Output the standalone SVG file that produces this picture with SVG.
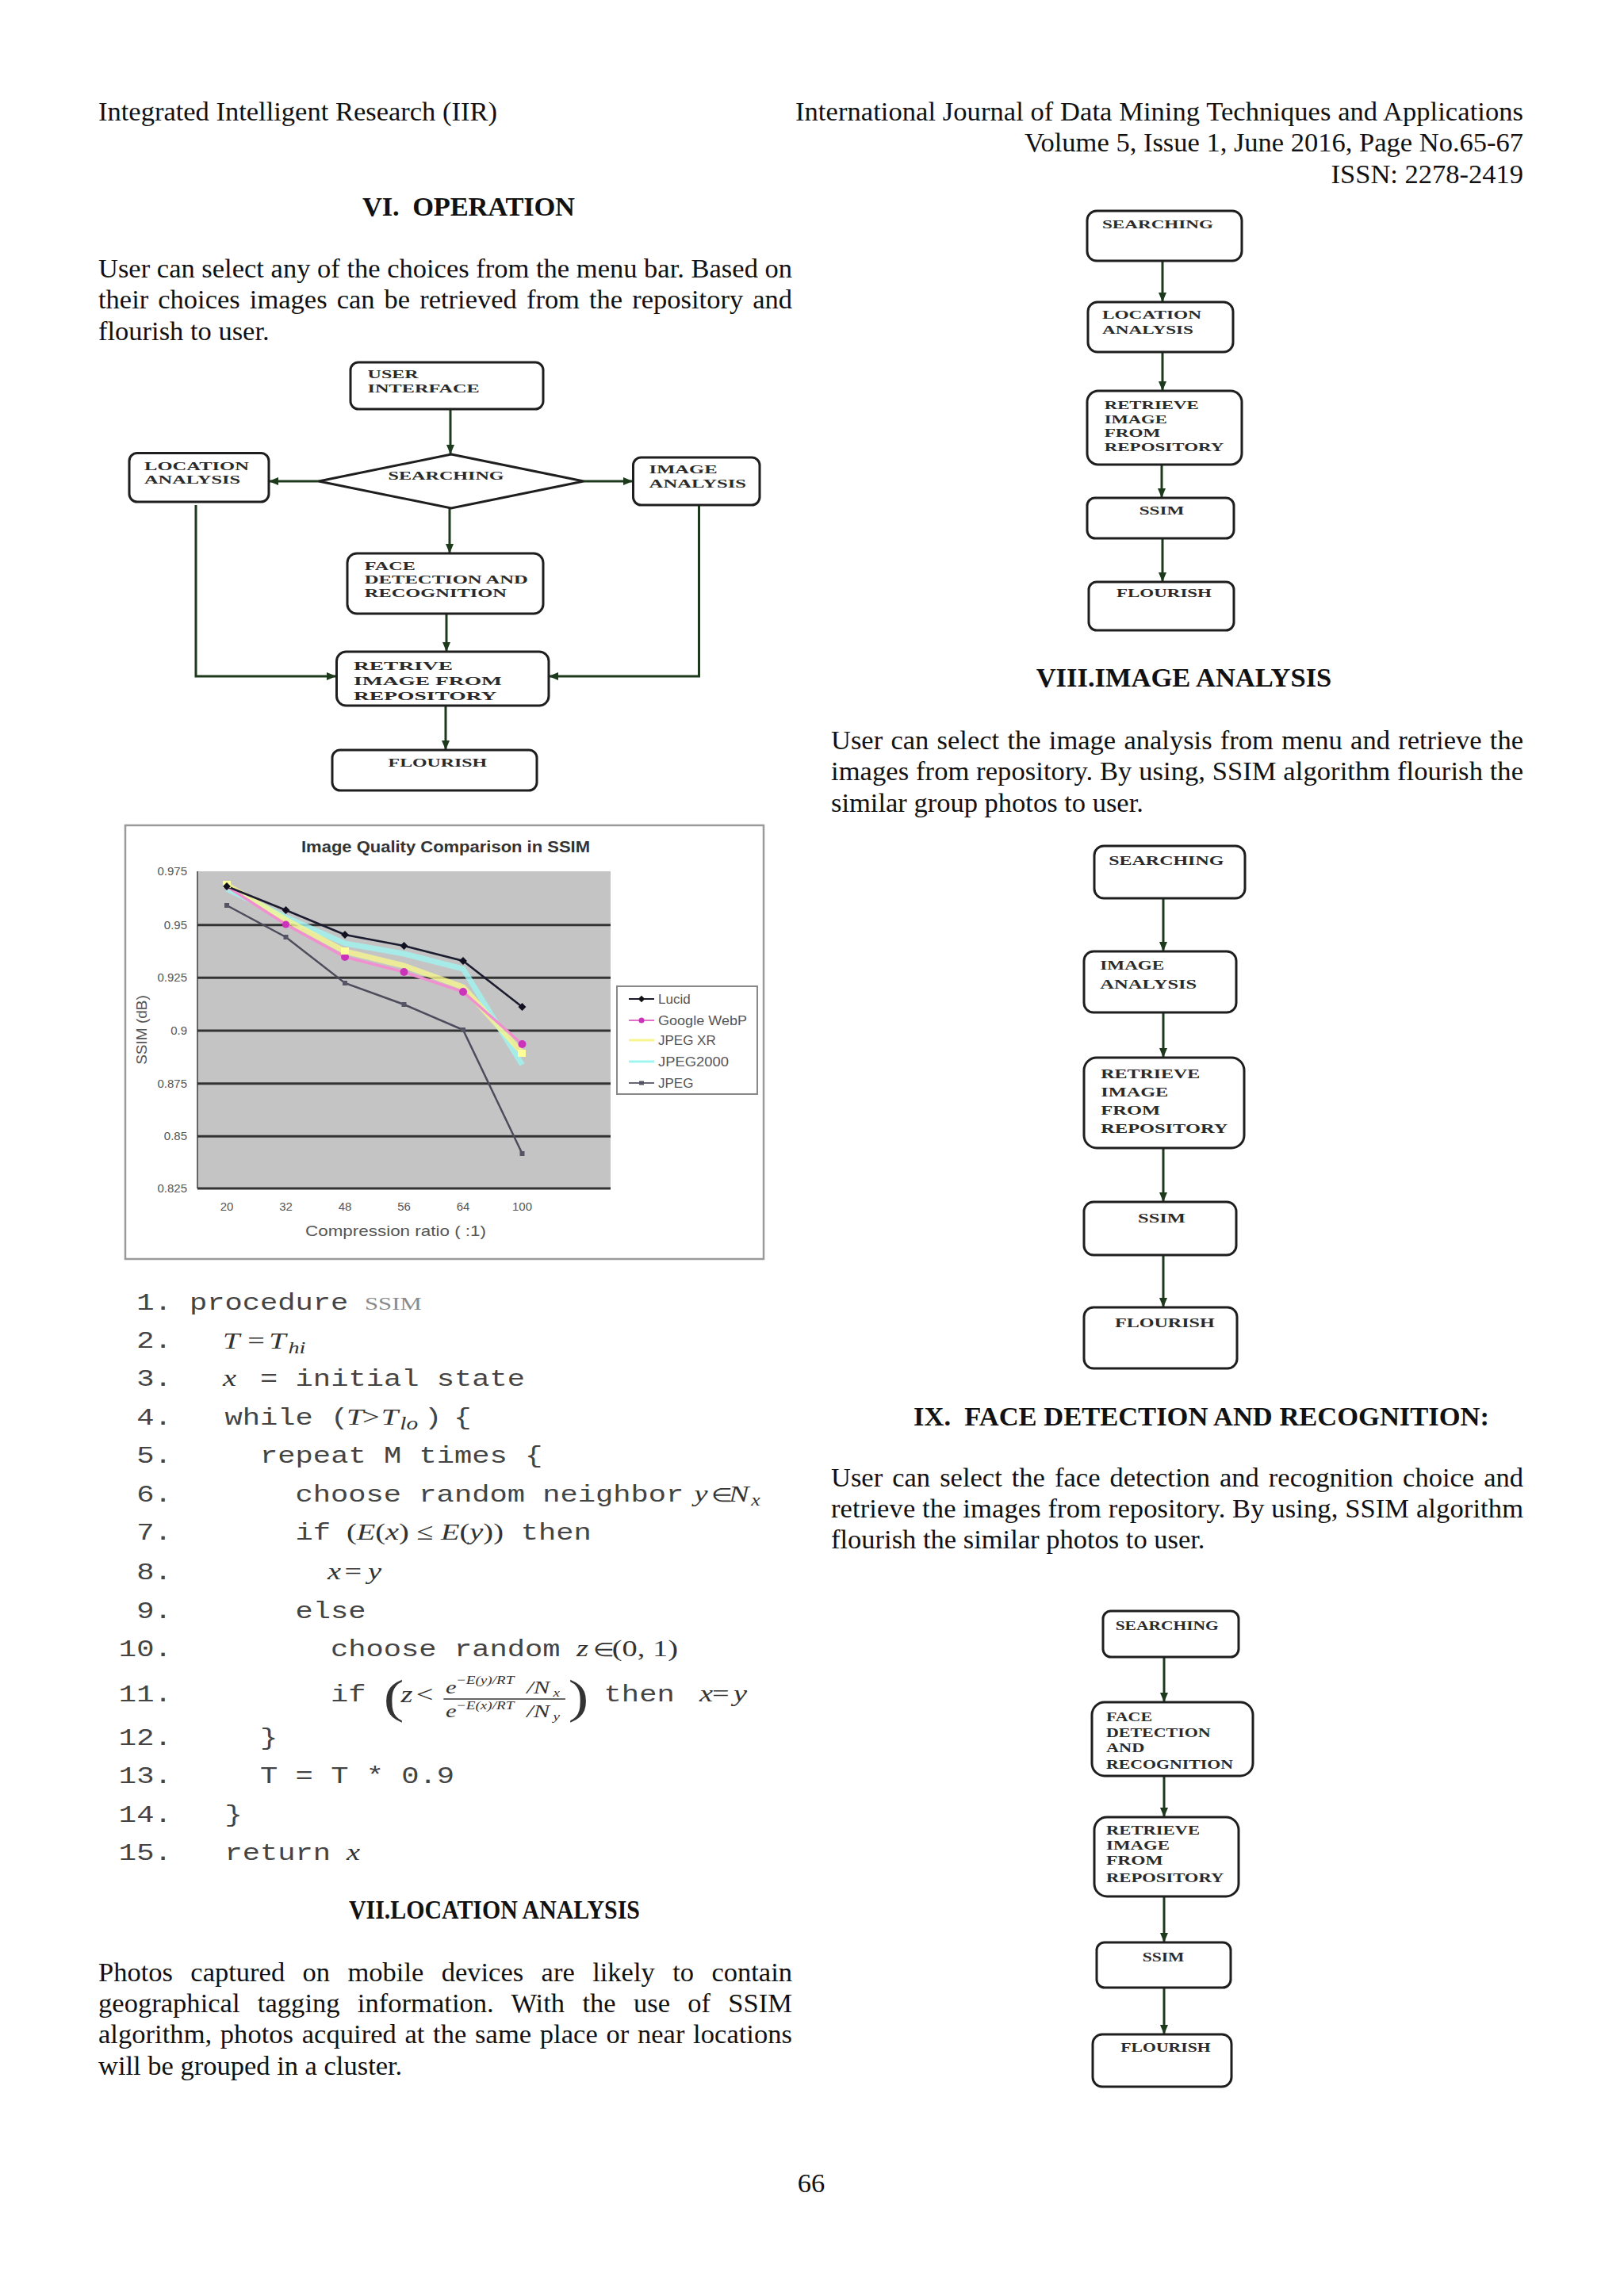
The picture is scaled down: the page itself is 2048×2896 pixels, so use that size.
<svg xmlns="http://www.w3.org/2000/svg" width="2048" height="2896" viewBox="0 0 2048 2896">
<defs>
<style>
.body{font-family:"Liberation Serif","Times New Roman",serif;font-size:34.5px;fill:#111}
.hd{font-weight:bold}
.fl{font-family:"Liberation Serif","Times New Roman",serif;font-weight:bold;font-size:15px;fill:#2a2a2a}
.fl17{font-size:17px}
.fl16{font-size:16px}
.box{fill:#fff;stroke:#1e1e1e;stroke-width:3}
.conn{fill:none;stroke:#1d3a1d;stroke-width:3}
.mono{font-family:"Liberation Mono","Courier New",monospace;font-size:29px;fill:#444}
.math{font-family:"Liberation Serif","Times New Roman",serif;font-size:30px;fill:#333}
.it{font-style:italic}
.ax{font-family:"Liberation Sans",Arial,sans-serif;font-size:15px;fill:#555}
.grid{stroke:#333;stroke-width:3}
</style>
<marker id="arr" markerWidth="12" markerHeight="10" refX="12" refY="5" orient="auto" markerUnits="userSpaceOnUse">
<path d="M0,0 L12,5 L0,10 z" fill="#1d3a1d"/>
</marker>
</defs>
<rect width="2048" height="2896" fill="#fff"/>

<!-- Header -->
<text class="body" x="124" y="152">Integrated Intelligent Research (IIR)</text>
<text class="body" x="1003" y="152" textLength="918">International Journal of Data Mining Techniques and Applications</text>
<text class="body" x="1921" y="191" text-anchor="end">Volume 5, Issue 1, June 2016, Page No.65-67</text>
<text class="body" x="1921" y="230.5" text-anchor="end">ISSN: 2278-2419</text>

<!-- Section VI -->
<text class="body hd" x="457" y="272" textLength="268" xml:space="preserve">VI.  OPERATION</text>
<text class="body" x="124" y="350" textLength="875">User can select any of the choices from the menu bar. Based on</text>
<text class="body" x="124" y="389" word-spacing="3.4" textLength="875">their choices images can be retrieved from the repository and</text>
<text class="body" x="124" y="429">flourish to user.</text>

<!-- Main flowchart -->
<g id="main-connectors">
<line class="conn" x1="568" y1="516" x2="568" y2="573" marker-end="url(#arr)"/>
<line class="conn" x1="402" y1="607" x2="339" y2="607" marker-end="url(#arr)"/>
<line class="conn" x1="736" y1="607" x2="798" y2="607" marker-end="url(#arr)"/>
<line class="conn" x1="567" y1="641" x2="567" y2="698" marker-end="url(#arr)"/>
<line class="conn" x1="563" y1="774" x2="563" y2="822" marker-end="url(#arr)"/>
<polyline class="conn" points="247,637 247,853 424,853" marker-end="url(#arr)"/>
<polyline class="conn" points="881.5,638 881.5,853 692,853" marker-end="url(#arr)"/>
<line class="conn" x1="562" y1="890" x2="562" y2="946" marker-end="url(#arr)"/>
</g>
<g id="m-user">
<rect class="box" x="442" y="457" width="243" height="59" rx="10"/>
<text class="fl" x="463.6" y="477" textLength="64" lengthAdjust="spacingAndGlyphs">USER</text>
<text class="fl" x="463.6" y="495" textLength="141" lengthAdjust="spacingAndGlyphs">INTERFACE</text>
</g>
<g id="m-search">
<polygon class="box" points="569,573 736,607 569,641 402,607"/>
<text class="fl" x="489.6" y="605" textLength="146" lengthAdjust="spacingAndGlyphs">SEARCHING</text>
</g>
<g id="m-location">
<rect class="box" x="163" y="571.5" width="176" height="61.5" rx="10"/>
<text class="fl" x="182" y="592.5" textLength="132" lengthAdjust="spacingAndGlyphs">LOCATION</text>
<text class="fl" x="182" y="610" textLength="121" lengthAdjust="spacingAndGlyphs">ANALYSIS</text>
</g>
<g id="m-image">
<rect class="box" x="798.5" y="577" width="159.5" height="60" rx="10"/>
<text class="fl" x="818.6" y="596.5" textLength="86" lengthAdjust="spacingAndGlyphs">IMAGE</text>
<text class="fl" x="818.6" y="614.5" textLength="122.5" lengthAdjust="spacingAndGlyphs">ANALYSIS</text>
</g>
<g id="m-face">
<rect class="box" x="438" y="698" width="247" height="76" rx="12"/>
<text class="fl" x="459.8" y="719" textLength="64" lengthAdjust="spacingAndGlyphs">FACE</text>
<text class="fl" x="459.8" y="736" textLength="206" lengthAdjust="spacingAndGlyphs">DETECTION AND</text>
<text class="fl" x="459.8" y="753" textLength="179" lengthAdjust="spacingAndGlyphs">RECOGNITION</text>
</g>
<g id="m-retrive">
<rect class="box" x="424.5" y="822" width="267.5" height="68" rx="12"/>
<text class="fl" x="446" y="845" textLength="125" lengthAdjust="spacingAndGlyphs">RETRIVE</text>
<text class="fl" x="446" y="863.5" textLength="187" lengthAdjust="spacingAndGlyphs">IMAGE FROM</text>
<text class="fl" x="446" y="883" textLength="180.5" lengthAdjust="spacingAndGlyphs">REPOSITORY</text>
</g>
<g id="m-flourish">
<rect class="box" x="419" y="946" width="258" height="51" rx="10"/>
<text class="fl" x="489.6" y="967" textLength="124.6" lengthAdjust="spacingAndGlyphs">FLOURISH</text>
</g>

<!-- Chart -->
<g id="chart">
<rect x="158" y="1041" width="805" height="547" fill="#fff" stroke="#9a9a9a" stroke-width="2.5"/>
<text x="562" y="1075" text-anchor="middle" font-family="Liberation Sans, Arial, sans-serif" font-weight="bold" font-size="20" fill="#333" textLength="364" lengthAdjust="spacingAndGlyphs">Image Quality Comparison in SSIM</text>
<rect x="249" y="1099" width="521" height="400" fill="#c4c4c4"/>
<line x1="249" y1="1099" x2="249" y2="1499" stroke="#666" stroke-width="2"/>
<line class="grid" x1="249" y1="1166.7" x2="770" y2="1166.7"/>
<line class="grid" x1="249" y1="1233.3" x2="770" y2="1233.3"/>
<line class="grid" x1="249" y1="1300" x2="770" y2="1300"/>
<line class="grid" x1="249" y1="1366.7" x2="770" y2="1366.7"/>
<line class="grid" x1="249" y1="1433.3" x2="770" y2="1433.3"/>
<line class="grid" x1="249" y1="1499" x2="770" y2="1499"/>
<g class="ax" text-anchor="end">
<text x="236" y="1104">0.975</text>
<text x="236" y="1172">0.95</text>
<text x="236" y="1238">0.925</text>
<text x="236" y="1305">0.9</text>
<text x="236" y="1372">0.875</text>
<text x="236" y="1438">0.85</text>
<text x="236" y="1504">0.825</text>
</g>
<g class="ax" text-anchor="middle">
<text x="286" y="1527">20</text>
<text x="360.5" y="1527">32</text>
<text x="435" y="1527">48</text>
<text x="509.5" y="1527">56</text>
<text x="584" y="1527">64</text>
<text x="658.5" y="1527">100</text>
</g>
<text class="ax" x="385" y="1559" style="font-size:19px" textLength="228" lengthAdjust="spacingAndGlyphs">Compression ratio ( :1)</text>
<text class="ax" style="font-size:19px" transform="translate(185,1299) rotate(-90)" text-anchor="middle">SSIM (dB)</text>
<polyline fill="none" stroke="#9ff5f0" stroke-width="7" stroke-opacity="0.8" points="286,1121 360.5,1157 435,1190 509.5,1203 584,1222 658.5,1343"/>
<polyline fill="none" stroke="#f6f590" stroke-width="7" stroke-opacity="0.8" points="286,1116 360.5,1160 435,1200 509.5,1218 584,1245 658.5,1328"/>
<polyline fill="none" stroke="#f090d0" stroke-width="3.5" points="286,1118 360.5,1166 435,1207 509.5,1226 584,1251 658.5,1317"/>
<polyline fill="none" stroke="#4c4c5c" stroke-width="2.5" points="286,1142 360.5,1182 435,1240 509.5,1267 584,1299 658.5,1455"/>
<polyline fill="none" stroke="#1c1c30" stroke-width="2.5" points="286,1118 360.5,1148 435,1179 509.5,1193 584,1212 658.5,1270"/>
<g fill="#cc33bb">
<circle cx="360.5" cy="1166" r="4.5"/><circle cx="435" cy="1207" r="5"/><circle cx="509.5" cy="1226" r="5"/><circle cx="584" cy="1251" r="5"/><circle cx="658.5" cy="1317" r="5"/>
</g>
<g fill="#ffff99"><rect x="653" y="1324" width="10" height="9"/><rect x="430" y="1195" width="10" height="9"/><rect x="281" y="1111" width="10" height="9"/></g>
<g fill="#555566">
<rect x="283" y="1139" width="6" height="6"/><rect x="357.5" y="1179" width="6" height="6"/><rect x="432" y="1237" width="6" height="6"/><rect x="506.5" y="1264" width="6" height="6"/><rect x="581" y="1296" width="6" height="6"/><rect x="655.5" y="1452" width="6" height="6"/>
</g>
<g fill="#111122">
<rect x="282.5" y="1114.5" width="7" height="7" transform="rotate(45 286 1118)"/>
<rect x="357" y="1144.5" width="7" height="7" transform="rotate(45 360.5 1148)"/>
<rect x="431.5" y="1175.5" width="7" height="7" transform="rotate(45 435 1179)"/>
<rect x="506" y="1189.5" width="7" height="7" transform="rotate(45 509.5 1193)"/>
<rect x="580.5" y="1208.5" width="7" height="7" transform="rotate(45 584 1212)"/>
<rect x="655" y="1266.5" width="7" height="7" transform="rotate(45 658.5 1270)"/>
</g>
<rect x="778" y="1244" width="177" height="136" fill="#fff" stroke="#888" stroke-width="2"/>
<line x1="793" y1="1260" x2="825" y2="1260" stroke="#1c1c30" stroke-width="2"/>
<rect x="806" y="1257" width="6" height="6" fill="#111" transform="rotate(45 809 1260)"/>
<line x1="793" y1="1287" x2="825" y2="1287" stroke="#e070c8" stroke-width="2"/>
<circle cx="809" cy="1287" r="3.5" fill="#cc33bb"/>
<line x1="793" y1="1312" x2="825" y2="1312" stroke="#f6f590" stroke-width="3"/>
<line x1="793" y1="1339" x2="825" y2="1339" stroke="#9ff5f0" stroke-width="3"/>
<line x1="793" y1="1366" x2="825" y2="1366" stroke="#666677" stroke-width="2"/>
<rect x="806" y="1363.5" width="6" height="5" fill="#555566"/>
<g class="ax" style="font-size:17px">
<text x="830" y="1266">Lucid</text>
<text x="830" y="1293" textLength="112" lengthAdjust="spacingAndGlyphs">Google WebP</text>
<text x="830" y="1318">JPEG XR</text>
<text x="830" y="1345" textLength="89" lengthAdjust="spacingAndGlyphs">JPEG2000</text>
<text x="830" y="1372">JPEG</text>
</g>
</g>

<!-- Pseudo code -->
<g id="code" transform="scale(1.28,1)">
<g class="mono" text-anchor="end">
<text x="169.3" y="1652">1.</text>
<text x="169.3" y="1700">2.</text>
<text x="169.3" y="1748.5">3.</text>
<text x="169.3" y="1797">4.</text>
<text x="169.3" y="1845.5">5.</text>
<text x="169.3" y="1894">6.</text>
<text x="169.3" y="1942">7.</text>
<text x="169.3" y="1992">8.</text>
<text x="169.3" y="2041">9.</text>
<text x="169.3" y="2089">10.</text>
<text x="169.3" y="2146">11.</text>
<text x="169.3" y="2201">12.</text>
<text x="169.3" y="2249">13.</text>
<text x="169.3" y="2298">14.</text>
<text x="169.3" y="2346">15.</text>
</g>
<text class="mono" x="186.7" y="1652">procedure</text>
<text x="359.4" y="1652" font-family="Liberation Serif, serif" font-size="24" fill="#8a8a8a">SSIM</text>
<text class="math" y="1701"><tspan class="it" x="219.5">T</tspan><tspan x="244">=</tspan><tspan class="it" x="265">T</tspan><tspan class="it" x="284" font-size="22" dy="6">hi</tspan></text>
<text class="math it" x="219.5" y="1748.5">x</text>
<text class="mono" x="256.3" y="1748.5">= initial state</text>
<text class="mono" x="221.5" y="1797">while</text>
<text class="mono" x="325.8" y="1797">(</text>
<text class="math" y="1797"><tspan class="it" x="341.4">T</tspan><tspan x="357">&gt;</tspan><tspan class="it" x="375.5">T</tspan><tspan class="it" x="394" font-size="23" dy="6">lo</tspan></text>
<text class="mono" x="418" y="1797">)</text>
<text class="mono" x="447" y="1797">{</text>
<text class="mono" x="256.3" y="1845.5">repeat M times {</text>
<text class="mono" x="291" y="1894">choose random neighbor</text>
<text class="math" y="1894"><tspan class="it" x="684">y</tspan><tspan x="701" font-size="24">∈</tspan><tspan class="it" x="718">N</tspan><tspan class="it" x="740" font-size="20" dy="5">x</tspan></text>
<text class="mono" x="291" y="1942">if</text>
<text class="math" x="341.4" y="1942">(<tspan class="it">E</tspan>(<tspan class="it">x</tspan>) ≤ <tspan class="it">E</tspan>(<tspan class="it">y</tspan>))</text>
<text class="mono" x="513" y="1942">then</text>
<text class="math it" y="1992"><tspan x="322.7">x</tspan><tspan x="339.5" font-style="normal">=</tspan><tspan x="362.5">y</tspan></text>
<text class="mono" x="291" y="2041">else</text>
<text class="mono" x="325.8" y="2089">choose random</text>
<text class="math" y="2089"><tspan class="it" x="568">z</tspan><tspan x="584" font-size="24">∈</tspan><tspan x="603">(0, 1)</tspan></text>
<text class="mono" x="325.8" y="2146">if</text>
<text class="math" x="378" y="2160" style="font-size:60px">(</text>
<text class="math it" x="395" y="2147">z</text>
<text class="math" x="410" y="2147">&lt;</text>
<text class="math it" x="439" y="2136" style="font-size:24px">e</text>
<text class="math it" x="449" y="2124" style="font-size:15px">−E(y)/RT</text>
<text class="math it" x="519" y="2136" style="font-size:24px">/N</text>
<text class="math it" x="545" y="2140" style="font-size:15px">x</text>
<line x1="437" y1="2143" x2="557" y2="2143" stroke="#333" stroke-width="1.5"/>
<text class="math it" x="439" y="2166" style="font-size:24px">e</text>
<text class="math it" x="449" y="2156" style="font-size:15px">−E(x)/RT</text>
<text class="math it" x="519" y="2166" style="font-size:24px">/N</text>
<text class="math it" x="545" y="2170" style="font-size:15px">y</text>
<text class="math" x="560" y="2160" style="font-size:60px">)</text>
<text class="mono" x="595" y="2146">then</text>
<text class="math it" y="2146"><tspan x="689">x</tspan><tspan x="701.6" font-style="normal">=</tspan><tspan x="722.7">y</tspan></text>
<text class="mono" x="256.3" y="2201">}</text>
<text class="mono" x="256.3" y="2249">T = T * 0.9</text>
<text class="mono" x="221.5" y="2298">}</text>
<text class="mono" x="221.5" y="2346">return</text>
<text class="math it" x="341.4" y="2346">x</text>
</g>

<!-- Section VII -->
<text class="body hd" x="440" y="2420" textLength="367" lengthAdjust="spacingAndGlyphs">VII.LOCATION ANALYSIS</text>
<text class="body" x="124" y="2499" word-spacing="13.8" textLength="875">Photos captured on mobile devices are likely to contain</text>
<text class="body" x="124" y="2538" word-spacing="13.6" textLength="875">geographical tagging information. With the use of SSIM</text>
<text class="body" x="124" y="2577" word-spacing="2" textLength="875">algorithm, photos acquired at the same place or near locations</text>
<text class="body" x="124" y="2617">will be grouped in a cluster.</text>

<!-- Right flowchart 1: location -->
<g id="r1-connectors">
<line class="conn" x1="1466" y1="329" x2="1466" y2="381" marker-end="url(#arr)"/>
<line class="conn" x1="1466" y1="444" x2="1466" y2="493" marker-end="url(#arr)"/>
<line class="conn" x1="1465" y1="586" x2="1465" y2="628" marker-end="url(#arr)"/>
<line class="conn" x1="1466" y1="679" x2="1466" y2="734" marker-end="url(#arr)"/>
</g>
<g id="r1-search"><rect class="box" x="1371" y="266" width="195" height="63" rx="12"/>
<text class="fl" x="1390" y="288" textLength="140" lengthAdjust="spacingAndGlyphs">SEARCHING</text></g>
<g id="r1-location"><rect class="box" x="1372" y="381" width="183" height="63" rx="12"/>
<text class="fl" x="1390" y="401.5" textLength="125" lengthAdjust="spacingAndGlyphs">LOCATION</text>
<text class="fl" x="1390" y="421" textLength="115" lengthAdjust="spacingAndGlyphs">ANALYSIS</text></g>
<g id="r1-retrieve"><rect class="box" x="1371" y="493" width="195" height="93" rx="14"/>
<text class="fl" x="1392.7" y="516" textLength="119" lengthAdjust="spacingAndGlyphs">RETRIEVE</text>
<text class="fl" x="1392.7" y="534" textLength="79" lengthAdjust="spacingAndGlyphs">IMAGE</text>
<text class="fl" x="1392.7" y="551" textLength="70.7" lengthAdjust="spacingAndGlyphs">FROM</text>
<text class="fl" x="1392.7" y="569" textLength="150.7" lengthAdjust="spacingAndGlyphs">REPOSITORY</text></g>
<g id="r1-ssim"><rect class="box" x="1371" y="628" width="185" height="51" rx="10"/>
<text class="fl" x="1436.7" y="649" textLength="56.7" lengthAdjust="spacingAndGlyphs">SSIM</text></g>
<g id="r1-flourish"><rect class="box" x="1373" y="734" width="183" height="61" rx="10"/>
<text class="fl" x="1408" y="753" textLength="120" lengthAdjust="spacingAndGlyphs">FLOURISH</text></g>

<!-- Section VIII -->
<text class="body hd" x="1493" y="866" text-anchor="middle">VIII.IMAGE ANALYSIS</text>
<text class="body" x="1048" y="944.5" word-spacing="1.6" textLength="873">User can select the image analysis from menu and retrieve the</text>
<text class="body" x="1048" y="984" textLength="873">images from repository. By using, SSIM algorithm flourish the</text>
<text class="body" x="1048" y="1024">similar group photos to user.</text>

<!-- Right flowchart 2: image -->
<g id="r2-connectors">
<line class="conn" x1="1467" y1="1133" x2="1467" y2="1200" marker-end="url(#arr)"/>
<line class="conn" x1="1467" y1="1277" x2="1467" y2="1334" marker-end="url(#arr)"/>
<line class="conn" x1="1467" y1="1448" x2="1467" y2="1516" marker-end="url(#arr)"/>
<line class="conn" x1="1467" y1="1583" x2="1467" y2="1649" marker-end="url(#arr)"/>
</g>
<g id="r2-search"><rect class="box" x="1380" y="1067" width="190" height="66" rx="12"/>
<text class="fl fl17" x="1398.3" y="1091" textLength="145" lengthAdjust="spacingAndGlyphs">SEARCHING</text></g>
<g id="r2-image"><rect class="box" x="1367" y="1200" width="192" height="77" rx="12"/>
<text class="fl fl17" x="1387.3" y="1223" textLength="81" lengthAdjust="spacingAndGlyphs">IMAGE</text>
<text class="fl fl17" x="1387.3" y="1247" textLength="122" lengthAdjust="spacingAndGlyphs">ANALYSIS</text></g>
<g id="r2-retrieve"><rect class="box" x="1367" y="1334" width="202" height="114" rx="16"/>
<text class="fl fl17" x="1388.3" y="1359.5" textLength="125" lengthAdjust="spacingAndGlyphs">RETRIEVE</text>
<text class="fl fl17" x="1388.3" y="1382.5" textLength="85" lengthAdjust="spacingAndGlyphs">IMAGE</text>
<text class="fl fl17" x="1388.3" y="1406" textLength="75" lengthAdjust="spacingAndGlyphs">FROM</text>
<text class="fl fl17" x="1388.3" y="1429" textLength="160" lengthAdjust="spacingAndGlyphs">REPOSITORY</text></g>
<g id="r2-ssim"><rect class="box" x="1367" y="1516" width="192" height="67" rx="12"/>
<text class="fl fl17" x="1435" y="1542" textLength="60" lengthAdjust="spacingAndGlyphs">SSIM</text></g>
<g id="r2-flourish"><rect class="box" x="1367" y="1649" width="193" height="77" rx="12"/>
<text class="fl fl17" x="1406" y="1674" textLength="125.7" lengthAdjust="spacingAndGlyphs">FLOURISH</text></g>

<!-- Section IX -->
<text class="body hd" x="1515" y="1798" text-anchor="middle" xml:space="preserve">IX.  FACE DETECTION AND RECOGNITION:</text>
<text class="body" x="1048" y="1875" word-spacing="3.4" textLength="873">User can select the face detection and recognition choice and</text>
<text class="body" x="1048" y="1914" textLength="873">retrieve the images from repository. By using, SSIM algorithm</text>
<text class="body" x="1048" y="1953">flourish the similar photos to user.</text>

<!-- Right flowchart 3: face -->
<g id="r3-connectors">
<line class="conn" x1="1468" y1="2090" x2="1468" y2="2147" marker-end="url(#arr)"/>
<line class="conn" x1="1468" y1="2240" x2="1468" y2="2292" marker-end="url(#arr)"/>
<line class="conn" x1="1468" y1="2392" x2="1468" y2="2450" marker-end="url(#arr)"/>
<line class="conn" x1="1468" y1="2507" x2="1468" y2="2566" marker-end="url(#arr)"/>
</g>
<g id="r3-search"><rect class="box" x="1391" y="2032" width="171" height="58" rx="10"/>
<text class="fl fl16" x="1406.7" y="2056" textLength="130" lengthAdjust="spacingAndGlyphs">SEARCHING</text></g>
<g id="r3-face"><rect class="box" x="1377" y="2147" width="203" height="93" rx="16"/>
<text class="fl fl16" x="1395" y="2171" textLength="58" lengthAdjust="spacingAndGlyphs">FACE</text>
<text class="fl fl16" x="1395" y="2190.5" textLength="131.7" lengthAdjust="spacingAndGlyphs">DETECTION</text>
<text class="fl fl16" x="1395" y="2209.5" textLength="48.3" lengthAdjust="spacingAndGlyphs">AND</text>
<text class="fl fl16" x="1395" y="2231" textLength="160" lengthAdjust="spacingAndGlyphs">RECOGNITION</text></g>
<g id="r3-retrieve"><rect class="box" x="1380" y="2292" width="182" height="100" rx="16"/>
<text class="fl fl16" x="1395" y="2314" textLength="118" lengthAdjust="spacingAndGlyphs">RETRIEVE</text>
<text class="fl fl16" x="1395" y="2333" textLength="80" lengthAdjust="spacingAndGlyphs">IMAGE</text>
<text class="fl fl16" x="1395" y="2351.5" textLength="71.7" lengthAdjust="spacingAndGlyphs">FROM</text>
<text class="fl fl16" x="1395" y="2373.5" textLength="148.3" lengthAdjust="spacingAndGlyphs">REPOSITORY</text></g>
<g id="r3-ssim"><rect class="box" x="1383" y="2450" width="169" height="57" rx="10"/>
<text class="fl fl16" x="1440.7" y="2474" textLength="52.7" lengthAdjust="spacingAndGlyphs">SSIM</text></g>
<g id="r3-flourish"><rect class="box" x="1378" y="2566" width="175" height="66" rx="12"/>
<text class="fl fl16" x="1413.3" y="2588" textLength="113.3" lengthAdjust="spacingAndGlyphs">FLOURISH</text></g>

<!-- Footer -->
<text class="body" x="1023" y="2765" text-anchor="middle">66</text>
</svg>
